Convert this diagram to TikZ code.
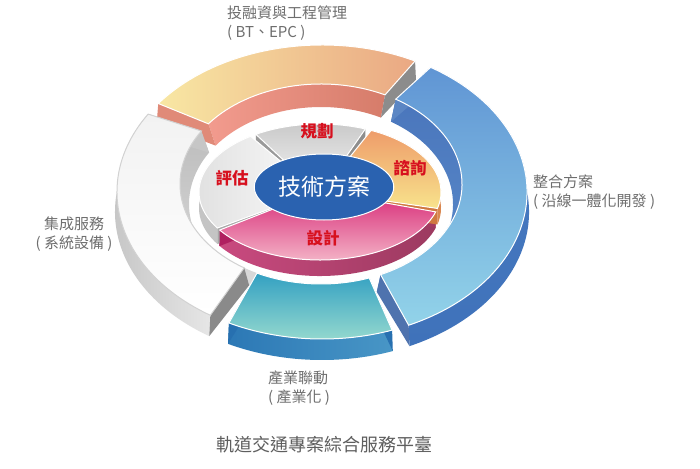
\documentclass[tikz,border=0pt]{standalone}
\usepackage{fontspec}
\setmainfont{Noto Sans CJK TC}
\usetikzlibrary{calc,shapes.geometric}
\definecolor{mygray}{HTML}{6E6E6E}
\definecolor{mytitle}{HTML}{5E5E5E}
\definecolor{myred}{HTML}{D7101E}
\definecolor{mycore}{HTML}{2A62B0}
\definecolor{myedge}{HTML}{D2D2D2}
% outer ring colours
\definecolor{myroseL}{HTML}{F29B8E}
\definecolor{myroseR}{HTML}{D67C6A}
\definecolor{myyellowL}{HTML}{F8E7A3}
\definecolor{mypeach}{HTML}{EAA883}
\definecolor{mysilverT}{HTML}{BDBDBD}
\definecolor{mysilverB}{HTML}{DCDCDC}
\definecolor{mysilverL}{HTML}{BEBEBE}
\definecolor{mysilverR}{HTML}{E6E6E6}
\definecolor{mywhiteT}{HTML}{F2F2F2}
\definecolor{mybluewallT}{HTML}{4A76BC}
\definecolor{mybluewallB}{HTML}{5B8CCB}
\definecolor{myblueoutT}{HTML}{4A7CC2}
\definecolor{myblueoutB}{HTML}{3F72BA}
\definecolor{myblueT}{HTML}{6095D4}
\definecolor{myblueB}{HTML}{92D3E9}
\definecolor{mytealT}{HTML}{33A0C2}
\definecolor{mytealB}{HTML}{9ADCCF}
\definecolor{mytealwallL}{HTML}{2C78B5}
\definecolor{mytealwallR}{HTML}{4896C6}
\definecolor{myendgray}{HTML}{8C8C8C}
\definecolor{myendrose}{HTML}{E08A78}
\definecolor{myendsilver}{HTML}{C6C6C6}
\definecolor{myenddark}{HTML}{8A8A8A}
\definecolor{myendteal}{HTML}{2770B0}
\definecolor{myendblue}{HTML}{4F73AE}
\definecolor{myendblueB}{HTML}{5B86C4}
% pie colours
\definecolor{mypiegray}{HTML}{C4C4C4}
\definecolor{myplanT}{HTML}{C8C8C8}
\definecolor{myplanB}{HTML}{EDEDED}
\definecolor{myassessL}{HTML}{DEDEDE}
\definecolor{myassessR}{HTML}{F8F8F8}
\definecolor{mypinkT}{HTML}{D9337C}
\definecolor{mypinkB}{HTML}{F7C3D0}
\definecolor{mypinkwallL}{HTML}{C94A7F}
\definecolor{mypinkwallR}{HTML}{9C3A60}
\definecolor{myorangeT}{HTML}{EE9C6A}
\definecolor{myorangeB}{HTML}{F8E38C}
\definecolor{myorangewall}{HTML}{D9874F}
\definecolor{myorangeend}{HTML}{D07840}
\definecolor{myorangeend2}{HTML}{E0905A}
\definecolor{mypinkend}{HTML}{B02060}
\definecolor{mypinkend2}{HTML}{A33A62}
\definecolor{myplanend}{HTML}{8E8E8E}
\definecolor{myplanend2}{HTML}{9A9A9A}
\definecolor{myassessend}{HTML}{A8A8A8}
\tikzset{
  gtext/.style={text=mygray,font=\fontsize{15}{18.5}\selectfont,align=left,inner sep=0pt,anchor=north west},
  rtext/.style={text=myred,font=\fontsize{16.5}{18}\selectfont\bfseries,inner sep=0pt},
  face/.style={draw=white,line width=1pt},
}
% band between two elliptic arcs: style, a1, a2, centre1, rx1, ry1, centre2, rx2, ry2
\newcommand{\band}[9]{\path[#1] ($(#4)+(#2:#5 and #6)$) arc[start angle=#2,end angle=#3,x radius=#5,y radius=#6]
  -- ($(#7)+(#3:#8 and #9)$) arc[start angle=#3,end angle=#2,x radius=#8,y radius=#9] -- cycle;}
% outer ring
\newcommand{\ringtop}[3]{\band{face,#1}{#2}{#3}{O}{205}{147}{I}{141}{100}}
\newcommand{\ringout}[3]{\band{#1}{#2}{#3}{O}{205}{147}{Od}{207}{148}}
\newcommand{\ringin}[3]{\band{#1}{#2}{#3}{I}{141}{100}{Id}{132}{97}}
\newcommand{\ringend}[2]{\path[#1] ($(O)+(#2:205 and 147)$) -- ($(I)+(#2:141 and 100)$)
  -- ($(Id)+(#2:132 and 97)$) -- ($(Od)+(#2:207 and 148)$) -- cycle;}
% inner pie
\newcommand{\pietop}[3]{\band{face,#1}{#2}{#3}{P}{121}{68}{P}{30}{15}}
\newcommand{\pieout}[3]{\band{#1}{#2}{#3}{P}{121}{68}{Pd}{121}{68}}
\newcommand{\pieend}[2]{\path[#1] ($(P)+(#2:121 and 68)$) -- ($(P)+(#2:30 and 15)$)
  -- ($(Pd)+(#2:30 and 15)$) -- ($(Pd)+(#2:121 and 68)$) -- cycle;}
\begin{document}
\begin{tikzpicture}[x=1pt,y=1pt]
\useasboundingbox[fill=white] (0,0) rectangle (700,-468);
\coordinate (O) at (322,-192);
\coordinate (Od) at (322,-212);
\coordinate (I) at (321,-184);
\coordinate (Id) at (321,-204);
\coordinate (P) at (320,-192);
\coordinate (Pd) at (320,-208);
% walls of the outer ring
\ringin{left color=myroseL,right color=myroseR}{63}{143}
\ringin{top color=mysilverT,bottom color=mysilverB}{148}{250}
\ringin{top color=mybluewallT,bottom color=mybluewallB}{-65}{58}
\ringout{left color=mysilverL,right color=mysilverR}{148}{237}
\ringout{left color=mytealwallL,right color=mytealwallR}{243}{290}
\ringout{top color=myblueoutT,bottom color=myblueoutB}{-65}{58}
\ringend{fill=myendgray}{63}
\ringend{fill=myendrose}{143}
\ringend{fill=myendsilver}{148}
\ringend{fill=myenddark}{237}
\ringend{fill=myendteal}{243}
\ringend{fill=myendteal}{290}
\ringend{fill=myendblue}{-65}
\ringend{fill=myendblueB}{58}
% top faces of the outer ring
\ringtop{left color=myyellowL,right color=mypeach}{63}{143}
\ringtop{top color=mywhiteT,bottom color=white,draw=myedge}{148}{237}
\ringtop{top color=mytealT,bottom color=mytealB}{243}{290}
\ringtop{top color=myblueT,bottom color=myblueB}{-65}{58}
% walls of the pie
\pieout{fill=mypiegray}{125}{212}
\pieout{left color=mypinkwallL,right color=mypinkwallR}{214}{343}
\pieout{fill=myorangewall}{-14}{65}
\pieend{fill=myplanend}{68}
\pieend{fill=myplanend2}{122}
\pieend{fill=myassessend}{212}
\pieend{fill=mypinkend}{214}
\pieend{fill=mypinkend2}{343}
\pieend{fill=myorangeend}{-14}
\pieend{fill=myorangeend2}{65}
% top faces of the pie
\pietop{top color=myplanT,bottom color=myplanB}{68}{122}
\pietop{left color=myassessL,right color=myassessR}{125}{212}
\pietop{top color=mypinkT,bottom color=mypinkB}{214}{343}
\pietop{top color=myorangeT,bottom color=myorangeB}{-14}{65}
% centre
\node[ellipse,fill=mycore,draw=white,line width=1pt,minimum width=136pt,minimum height=66pt,
  text=white,font=\fontsize{23}{25}\selectfont] (core) at (324,-187) {技術方案};
\node[rtext] (plan) at (317,-131) {規劃};
\node[rtext] (consult) at (410,-168) {諮詢};
\node[rtext] (design) at (323,-238) {設計};
\node[rtext] (assess) at (232,-178) {評估};
% outer labels
\node[gtext] (invest) at (227,-6) {投融資與工程管理\\(~BT、EPC~)};
\node[gtext] (integrate) at (533,-175) {整合方案\\(~沿線一體化開發~)};
\node[gtext,align=center,anchor=north] (system) at (74,-217) {集成服務\\(~系統設備~)};
\node[gtext] (industry) at (268,-371) {產業聯動\\(~產業化~)};
\node[text=mytitle,font=\fontsize{18}{20}\selectfont] (platform) at (324,-445) {軌道交通專案綜合服務平臺};
\end{tikzpicture}
\end{document}
